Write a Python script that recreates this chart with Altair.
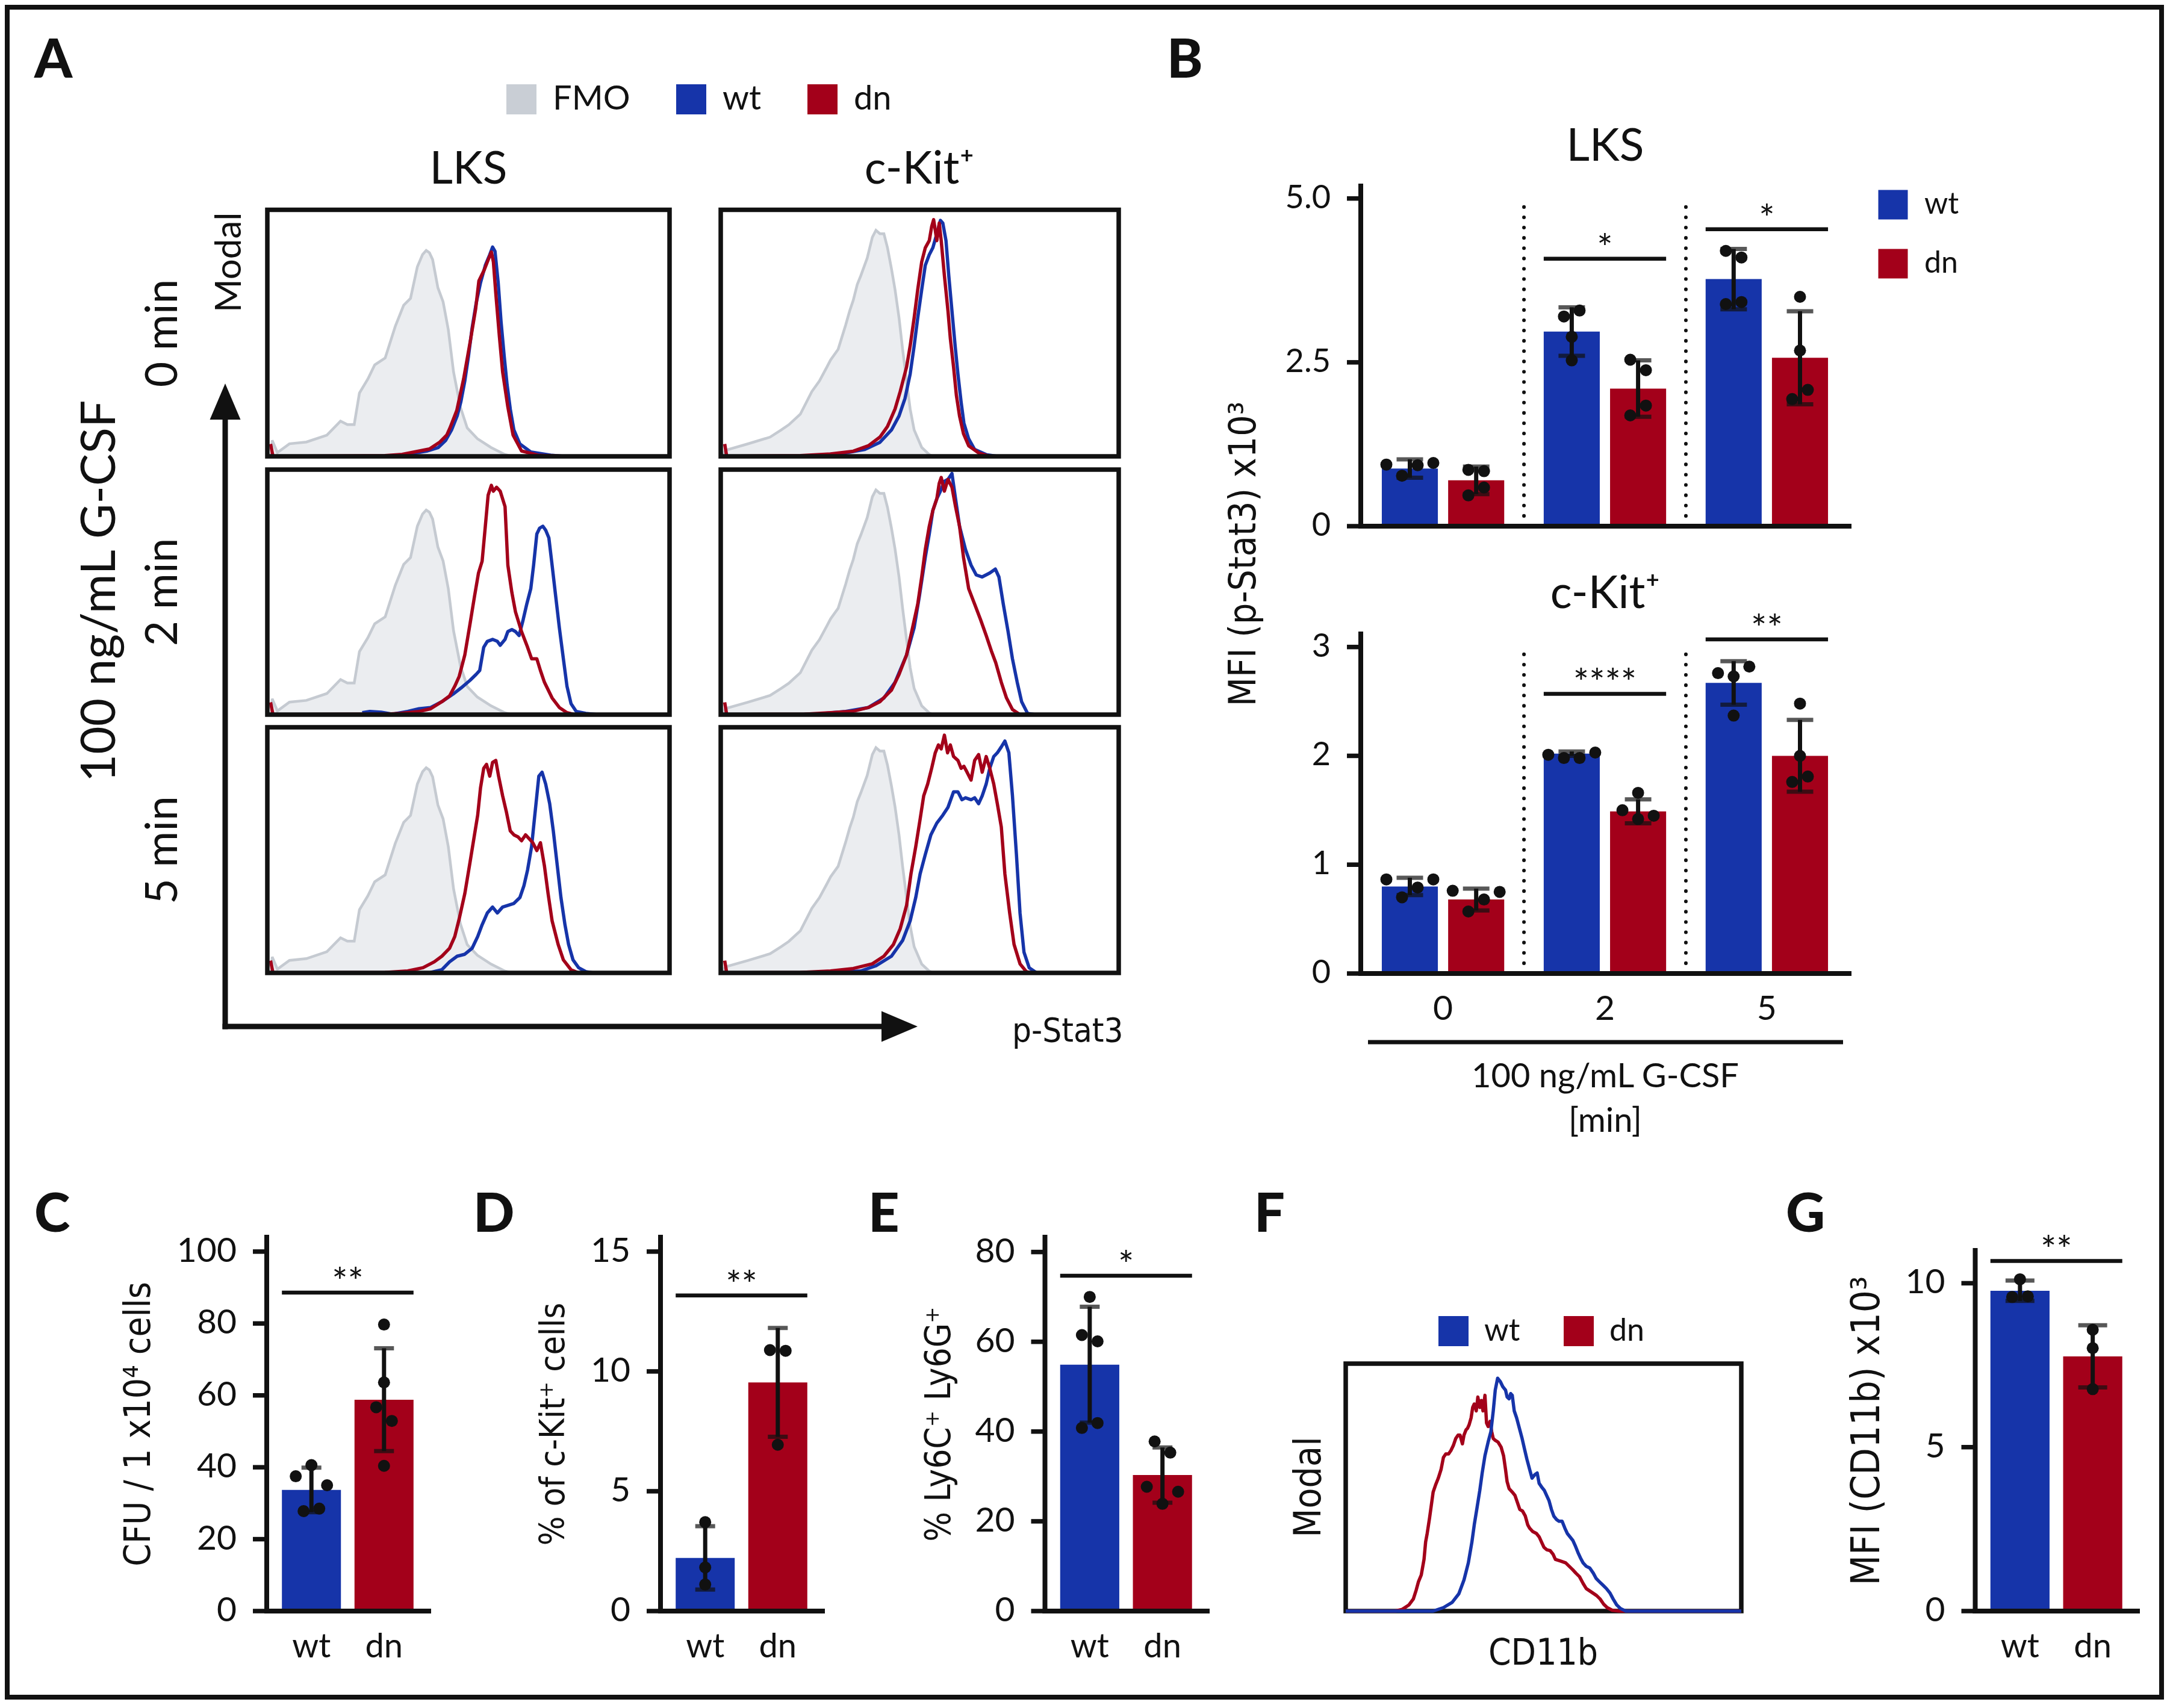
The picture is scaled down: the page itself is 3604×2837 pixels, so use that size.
import altair as alt
import pandas as pd

# ------------------------------------------------------------------ values
GENO = ["wt", "dn"]
TIMES = ["0", "2", "5"]

# Panel B - LKS : MFI (p-Stat3) x10^3
LKS_MEAN_WT = [0.88, 2.97, 3.77]
LKS_MEAN_DN = [0.70, 2.10, 2.57]
LKS_SD_WT = [0.14, 0.37, 0.46]
LKS_SD_DN = [0.21, 0.43, 0.71]
LKS_PTS_WT = [[0.94, 0.77, 0.93, 0.965], [3.20, 3.29, 2.89, 2.53], [4.20, 4.10, 3.39, 3.42]]
LKS_PTS_DN = [[0.86, 0.84, 0.47, 0.59], [2.54, 2.38, 1.69, 1.84], [3.50, 2.68, 1.94, 2.08]]
LKS_SIG_T = ["2", "5"]
LKS_SIG_Y = [4.08, 4.53]
LKS_SIG_S = ["*", "*"]
LKS_TICKS = [0, 2.5, 5.0]
LKS_TICK_LABELS = ["0", "2.5", "5.0"]

# Panel B - c-Kit+
CK_MEAN_WT = [0.80, 2.02, 2.67]
CK_MEAN_DN = [0.68, 1.49, 2.00]
CK_SD_WT = [0.08, 0.02, 0.20]
CK_SD_DN = [0.10, 0.11, 0.33]
CK_PTS_WT = [[0.865, 0.70, 0.79, 0.865], [2.01, 1.98, 1.98, 2.03], [2.76, 2.73, 2.82, 2.37]]
CK_PTS_DN = [[0.76, 0.57, 0.68, 0.75], [1.50, 1.66, 1.42, 1.45], [2.48, 2.00, 1.76, 1.81]]
CK_SIG_T = ["2", "5"]
CK_SIG_Y = [2.57, 3.07]
CK_SIG_S = ["****", "**"]
CK_TICKS = [0, 1, 2, 3]

# Panel C - CFU / 1x10^4 cells
CFU_MEAN = [33.7, 58.8]
CFU_SD = [6.2, 14.3]
CFU_PTS = [[37.5, 40.6, 35.0, 27.8, 28.5], [79.7, 63.6, 56.7, 52.9, 40.4]]
CFU_SIG = (88.6, "**")
CFU_TICKS = [0, 20, 40, 60, 80, 100]

# Panel D - % of c-Kit+ cells
KIT_MEAN = [2.22, 9.54]
KIT_SD = [1.32, 2.27]
KIT_PTS = [[1.11, 3.71, 1.82], [10.89, 10.86, 6.94]]
KIT_SIG = (13.17, "**")
KIT_TICKS = [0, 5, 10, 15]

# Panel E - % Ly6C+ Ly6G+
LY_MEAN = [54.9, 30.3]
LY_SD = [12.9, 6.15]
LY_PTS = [[61.5, 70.0, 60.1, 40.8, 41.9], [37.8, 35.3, 27.7, 23.9, 26.6]]
LY_SIG = (74.7, "*")
LY_TICKS = [0, 20, 40, 60, 80]

# Panel G - MFI (CD11b) x10^3
CD_MEAN = [9.77, 7.77]
CD_SD = [0.31, 0.95]
CD_PTS = [[10.12, 9.58, 9.60], [8.58, 8.02, 6.77]]
CD_SIG = (10.68, "**")
CD_TICKS = [0, 5, 10]

# Panel A histograms (x: channel 0-1000, y: % of mode)
LKS_FMO_X = [10, 12, 25, 55, 97, 148, 182, 199, 216, 229, 250, 267, 293, 318, 339, 356, 373, 386, 395, 403,
             411, 424, 437, 450, 463, 480, 497, 522, 556, 590, 607]
LKS_FMO_Y = [0, 6.5, 1.5, 5.1, 5.8, 8.6, 14.3, 12.9, 12.9, 25.7, 31.4, 37.1, 39.9, 52.7, 61.3, 64.1, 76.9, 81.9,
             83.5, 82.6, 79.8, 68.4, 62.7, 51.3, 34.2, 20.0, 11.5, 7.2, 3.6, 0.8, 0]
CK_FMO_X = [6, 10, 19, 67, 124, 152, 171, 200, 229, 248, 267, 276, 295, 314, 324, 333, 343, 352, 368, 381, 390,
            400, 410, 419, 429, 438, 448, 457, 467, 476, 486, 505, 524, 533]
CK_FMO_Y = [0, 2.1, 2.8, 5.0, 7.8, 10.7, 12.8, 17.1, 26.3, 30.6, 36.3, 39.1, 43.4, 53.3, 59.0, 63.3, 69.7, 73.3,
            80.4, 88.9, 91.7, 90.3, 90.3, 84.6, 76.1, 67.6, 56.2, 43.4, 30.6, 19.2, 10.7, 3.6, 0.7, 0]

LKS0_WT_X = [330, 396, 425, 443, 458, 472, 481, 491, 500, 509, 519, 530, 542, 553, 560, 566, 574, 581, 589, 596,
             604, 613, 628, 655, 708, 736]
LKS0_WT_Y = [0.3, 2.1, 3.6, 6.4, 10.7, 16.4, 22.0, 30.6, 40.5, 51.9, 61.9, 70.4, 77.5, 81.8, 84.9, 83.2, 70.4,
             54.8, 40.5, 29.2, 19.2, 10.7, 5.0, 1.8, 0.4, 0]
LKS0_DN_X = [8, 14, 292, 335, 403, 429, 446, 454, 471, 488, 505, 518, 526, 539, 551, 557, 562, 568, 577, 585,
             598, 611, 632, 675, 743]
LKS0_DN_Y = [5, 0, 0.3, 0.8, 3.0, 5.8, 8.6, 11.5, 18.6, 31.4, 47.1, 59.9, 71.2, 75.5, 80.5, 82.9, 78.9, 66.1,
             48.5, 34.2, 20.0, 8.6, 2.2, 0.4, 0]

LKS2_WT_X = [236, 255, 283, 311, 349, 377, 406, 434, 462, 481, 504, 519, 528, 538, 547, 560, 572, 579, 591, 598,
             608, 617, 626, 636, 645, 655, 662, 670, 677, 685, 692, 700, 708, 717, 726, 736, 745, 755, 768, 792, 821]
LKS2_WT_Y = [0.8, 1.3, 1.0, 0.2, 1.3, 2.4, 2.9, 5.3, 8.4, 10.8, 14.0, 16.4, 18.0, 27.5, 29.9, 30.7, 29.9, 28.3,
             30.7, 33.9, 34.7, 33.9, 32.3, 38.7, 45.1, 51.4, 61.0, 73.7, 76.1, 76.9, 75.3, 72.1, 61.0, 48.2, 35.5,
             22.8, 11.6, 4.5, 1.3, 0.5, 0]
LKS2_DN_X = [8, 14, 236, 292, 330, 377, 406, 434, 453, 466, 477, 491, 504, 515, 525, 534, 542, 549, 557, 562,
             570, 579, 591, 598, 608, 617, 632, 647, 657, 670, 679, 689, 708, 726, 745, 764]
LKS2_DN_Y = [5, 0, 0.2, 0.2, 0.5, 1.3, 2.4, 5.3, 7.6, 11.6, 15.6, 24.4, 37.1, 48.2, 57.8, 62.6, 76.9, 89.6, 93.6,
             91.2, 92.8, 91.2, 84.9, 61.0, 49.8, 41.9, 33.9, 27.5, 22.8, 22.8, 18.0, 13.2, 6.8, 2.9, 0.8, 0]

LKS5_WT_X = [406, 434, 453, 472, 491, 509, 523, 534, 547, 560, 572, 585, 598, 613, 628, 638, 647, 657, 664, 670,
             675, 683, 692, 702, 711, 721, 730, 740, 749, 760, 774, 792, 811]
LKS5_WT_Y = [0.2, 1.3, 4.5, 6.8, 7.6, 10.0, 14.8, 19.6, 24.4, 26.8, 24.4, 26.8, 27.5, 28.3, 30.7, 35.5, 41.9,
             51.4, 62.6, 72.1, 80.1, 81.7, 76.9, 68.9, 57.8, 43.5, 30.7, 19.6, 11.6, 5.3, 2.1, 0.5, 0]
LKS5_DN_X = [8, 14, 292, 349, 387, 415, 434, 453, 466, 477, 491, 504, 515, 523, 530, 538, 545, 553, 560, 568,
             575, 585, 594, 604, 613, 623, 632, 642, 651, 660, 670, 679, 689, 698, 708, 723, 736, 755, 774]
LKS5_DN_Y = [5, 0, 0.2, 0.8, 2.1, 4.5, 6.8, 10.0, 14.8, 22.0, 32.3, 45.1, 56.2, 64.2, 75.3, 83.3, 84.9, 80.1,
             85.7, 86.5, 80.1, 72.1, 65.8, 57.8, 56.2, 55.4, 53.8, 56.2, 54.6, 53.0, 49.8, 53.0, 43.5, 32.3, 21.2,
             11.6, 5.3, 1.3, 0]

CK0_WT_X = [238, 314, 362, 400, 429, 448, 463, 476, 486, 495, 505, 514, 524, 533, 543, 552, 558, 566, 573, 581,
            589, 596, 604, 611, 623, 638, 667, 695]
CK0_WT_Y = [0.3, 1.4, 2.8, 5.7, 10.7, 16.4, 23.5, 33.4, 44.8, 56.2, 67.6, 77.5, 81.8, 84.6, 90.3, 95.7, 94.6,
            87.5, 73.3, 59.0, 44.8, 33.4, 22.0, 13.5, 7.1, 2.8, 0.7, 0]
CK0_DN_X = [10, 15, 200, 276, 333, 371, 400, 419, 438, 451, 467, 476, 486, 495, 505, 514, 524, 530, 535, 543,
            549, 554, 562, 571, 577, 585, 592, 600, 610, 623, 648, 676]
CK0_DN_Y = [5, 0, 0.3, 1.0, 2.1, 4.3, 7.8, 12.1, 19.2, 26.3, 36.3, 44.8, 56.2, 67.6, 78.9, 84.6, 87.5, 93.2,
            96.0, 87.5, 94.6, 87.5, 73.3, 59.0, 47.7, 36.3, 24.9, 16.4, 9.2, 4.3, 1.4, 0]

CK2_WT_X = [238, 314, 371, 410, 438, 467, 486, 499, 514, 524, 533, 543, 552, 562, 571, 581, 590, 600, 615, 629,
            642, 657, 676, 690, 699, 710, 722, 733, 745, 756, 771, 790]
CK2_WT_Y = [0.2, 1.3, 2.9, 6.8, 13.2, 24.4, 35.5, 48.2, 64.2, 73.7, 83.3, 88.1, 91.2, 95.2, 96.0, 98.4, 88.1,
            76.9, 67.4, 61.0, 57.0, 56.2, 57.8, 59.4, 56.2, 45.1, 33.9, 22.8, 13.2, 5.3, 0.5, 0]
CK2_DN_X = [10, 15, 210, 276, 333, 371, 400, 429, 448, 467, 482, 495, 505, 514, 524, 533, 543, 549, 554, 562,
            571, 581, 590, 600, 610, 623, 638, 653, 667, 680, 691, 705, 718, 733, 752]
CK2_DN_Y = [5, 0, 0.2, 0.8, 1.4, 2.9, 5.3, 10.0, 16.4, 24.4, 35.5, 45.1, 56.2, 67.4, 76.9, 83.3, 88.1, 94.4,
            96.8, 91.2, 96.0, 92.8, 84.9, 76.9, 64.2, 51.4, 45.1, 38.7, 32.3, 26.0, 21.2, 13.2, 6.8, 2.1, 0]

CK5_WT_X = [295, 352, 390, 429, 457, 476, 490, 501, 514, 528, 543, 558, 571, 585, 596, 606, 615, 629, 638, 648,
            657, 667, 676, 686, 695, 705, 714, 724, 733, 743, 752, 762, 775, 794]
CK5_WT_Y = [0.2, 0.8, 2.9, 6.8, 13.2, 21.2, 30.7, 40.3, 48.2, 56.2, 61.0, 64.2, 67.4, 73.7, 73.7, 70.5, 71.3,
            70.5, 71.3, 68.9, 72.1, 76.9, 83.3, 88.1, 89.6, 92.0, 94.4, 89.6, 72.1, 48.2, 24.4, 8.4, 2.1, 0]
CK5_DN_X = [10, 15, 200, 276, 333, 381, 410, 434, 451, 467, 478, 490, 501, 510, 520, 530, 539, 547, 554, 562,
            570, 577, 585, 596, 604, 611, 619, 629, 638, 648, 657, 667, 676, 686, 695, 705, 714, 726, 737, 752,
            768, 781]
CK5_DN_Y = [5, 0, 0.2, 0.8, 1.8, 3.7, 6.8, 11.6, 18.0, 27.5, 40.3, 51.4, 62.6, 72.1, 76.9, 83.3, 89.6, 92.8,
            91.2, 96.8, 89.6, 92.8, 88.1, 86.5, 83.3, 84.1, 81.7, 78.5, 86.5, 88.9, 81.7, 88.1, 83.3, 76.9, 68.9,
            59.4, 40.3, 24.4, 11.6, 3.7, 0.5, 0]

# Panel F histogram (CD11b)
F_WT_X = [0, 221, 247, 269, 286, 299, 310, 319, 325, 332, 339, 345, 352, 360, 367, 373, 378, 384, 391, 397, 404,
          408, 413, 417, 421, 426, 432, 439, 446, 452, 458, 465, 471, 478, 484, 489, 495, 502, 508, 514, 520, 526,
          533, 539, 547, 554, 560, 567, 574, 580, 587, 593, 600, 608, 617, 626, 633, 641, 650, 659, 668, 676, 685,
          695, 708, 1000]
F_WT_Y = [0, 0, 1.4, 3.5, 7.0, 12.6, 19.5, 27.9, 34.9, 41.8, 48.8, 55.8, 62.8, 68.3, 72.5, 80.9, 89.3, 94.1, 92.7,
          90.7, 89.3, 86.5, 85.8, 87.9, 87.2, 80.9, 78.1, 73.9, 69.7, 65.5, 61.4, 57.2, 53.7, 55.1, 55.8, 51.6, 50.2,
          48.8, 46.7, 44.6, 41.1, 38.4, 37.0, 36.3, 36.3, 33.5, 31.4, 30.0, 28.6, 26.5, 23.7, 21.6, 19.5, 18.1, 17.4,
          15.3, 13.2, 11.9, 10.5, 9.1, 7.3, 4.9, 2.5, 1.0, 0, 0]
F_DN_X = [0, 125, 143, 160, 171, 178, 184, 191, 198, 202, 206, 212, 218, 221, 227, 234, 241, 247, 253, 260, 266,
          272, 278, 284, 289, 295, 299, 304, 308, 312, 317, 321, 325, 330, 334, 339, 343, 347, 352, 356, 360, 365,
          369, 373, 378, 385, 393, 399, 404, 408, 413, 421, 428, 434, 440, 447, 454, 460, 465, 473, 482, 489, 495,
          501, 508, 517, 524, 530, 543, 556, 565, 574, 582, 591, 600, 608, 621, 634, 643, 652, 661, 674, 691, 1000]
F_DN_Y = [0, 0, 0.7, 2.5, 4.9, 8.4, 11.9, 14.6, 20.9, 27.9, 31.4, 37.7, 44.6, 48.1, 50.9, 53.7, 57.2, 62.1, 63.5,
          63.5, 64.9, 66.9, 69.7, 71.1, 71.1, 67.6, 71.1, 73.2, 73.9, 75.3, 78.1, 82.3, 83.7, 80.9, 86.5, 82.3, 85.1,
          80.9, 87.2, 76.0, 74.6, 76.7, 72.5, 69.7, 69.0, 68.3, 66.2, 62.8, 57.2, 52.3, 49.5, 48.1, 46.7, 43.9, 41.1,
          40.4, 38.4, 34.9, 33.5, 32.1, 31.4, 30.0, 27.9, 25.8, 24.8, 24.4, 23.0, 20.9, 20.2, 19.5, 18.1, 16.7, 15.3,
          13.9, 11.2, 9.1, 7.7, 6.3, 4.9, 2.8, 1.4, 0.3, 0, 0]

# ------------------------------------------------------------------ layout / style
W, H = 3586, 2815


def r(v):  # reference pixel -> chart pixel (page margin is 8px)
    return v - 8.0


BLUE, RED, INK = "#1634A9", "#A3001A", "#111111"
FMO_FILL, FMO_LINE, FMO_KEY = "#E3E6EA", "#C5CAD1", "#C9CED5"
SANS = "Lato, Open Sans, sans-serif"
NARROW = "Liberation Sans Narrow, DejaVu Sans Condensed, sans-serif"
DOT_D = 22.0
DOT_SIZE = 400
SIG_FS = 62


def swarm(vals, ppu, thr=1.2, sp=26.0):
    n = len(vals)
    parent = list(range(n))

    def find(i):
        while parent[i] != i:
            parent[i] = parent[parent[i]]
            i = parent[i]
        return i

    for i in range(n):
        for j in range(i + 1, n):
            if abs(vals[i] - vals[j]) * ppu < thr * DOT_D:
                parent[find(i)] = find(j)
    groups = {}
    for i in range(n):
        groups.setdefault(find(i), []).append(i)
    off = [0.0] * n
    for mem in groups.values():
        k = len(mem)
        for rank, i in enumerate(mem):
            off[i] = (rank - (k - 1) / 2.0) * sp
    return off


def txt(s, x, y, size, font=SANS, weight="normal", angle=0, align="center"):
    return alt.Chart(alt.Data(values=[{"t": s}])).mark_text(
        font=font, fontSize=size, fontWeight=weight, angle=angle, align=align, baseline="alphabetic",
        color=INK).encode(x=alt.value(x), y=alt.value(y), text="t:N")


def axes_layers(xs, ys, xfield, xcats, ydom, yr, axis_x, x_end, ticks, tick_labels, ylab_fs, xlab_fs,
                show_xlabels):
    """Axis lines, ticks and labels, positioned through the panel's own scales."""
    out = []
    out.append(alt.Chart(pd.DataFrame({"a": [ydom[0]], "b": [ydom[1]]})).mark_rule(
        color=INK, strokeWidth=8, strokeCap="square").encode(
        x=alt.value(axis_x), y=alt.Y("a:Q", scale=ys, axis=None), y2="b:Q"))
    out.append(alt.Chart(pd.DataFrame({"a": [ydom[0]]})).mark_rule(
        color=INK, strokeWidth=8, strokeCap="square").encode(
        x=alt.value(axis_x), x2=alt.value(x_end), y=alt.Y("a:Q", scale=ys, axis=None)))
    tdf = pd.DataFrame({"v": ticks, "lab": tick_labels})
    out.append(alt.Chart(tdf).mark_rule(color=INK, strokeWidth=7.5).encode(
        x=alt.value(axis_x - 23), x2=alt.value(axis_x), y=alt.Y("v:Q", scale=ys, axis=None)))
    out.append(alt.Chart(tdf).mark_text(font=SANS, fontSize=ylab_fs, color=INK, align="right",
                                        baseline="middle").encode(
        x=alt.value(axis_x - 50), y=alt.Y("v:Q", scale=ys, axis=None), text="lab:N"))
    if show_xlabels:
        out.append(alt.Chart(pd.DataFrame({xfield: xcats})).mark_text(
            font=SANS, fontSize=xlab_fs, color=INK, align="center", baseline="alphabetic").encode(
            x=alt.X(f"{xfield}:N", scale=xs, axis=None), y=alt.value(yr[0] + 77), text=f"{xfield}:N"))
    return out


def curve(xs, ys):
    return pd.DataFrame({"x": xs, "y": ys, "i": list(range(len(xs)))})


def hist_panel(xr, yr, fmo, wt, dn, frame_top=True, wt_last=False):
    xsc = alt.Scale(domain=[0, 1000], range=list(xr), nice=False, zero=False)
    ysc = alt.Scale(domain=[0, 100], range=list(yr), nice=False, zero=False)
    X = alt.X("x:Q", scale=xsc, axis=None)
    Y = alt.Y("y:Q", scale=ysc, axis=None)
    frame = alt.Chart(alt.Data(values=[{"x": 0, "x2": 1000, "y": 0, "y2": 100}])).mark_rect(
        filled=False, color=INK, strokeWidth=7.5).encode(x=X, x2="x2:Q", y=Y, y2="y2:Q")
    layers = []
    if not frame_top:
        layers.append(frame)
    if fmo is not None:
        layers.append(alt.Chart(curve(*fmo)).mark_area(
            color=FMO_FILL, line={"color": FMO_LINE, "strokeWidth": 4.5}).encode(x=X, y=Y))
    lw = alt.Chart(curve(*wt)).mark_line(color=BLUE, strokeWidth=5.5, strokeJoin="round").encode(
        x=X, y=Y, order="i:Q")
    ld = alt.Chart(curve(*dn)).mark_line(color=RED, strokeWidth=5.5, strokeJoin="round").encode(
        x=X, y=Y, order="i:Q")
    layers += [ld, lw] if wt_last else [lw, ld]
    if frame_top:
        layers.append(frame)
    return alt.layer(*layers)


def legend_layer(labels, colors, lx, ly, direction, size, fs, loff, colpad=0, rowpad=0):
    return alt.Chart(pd.DataFrame({"k": labels})).mark_square(size=0, opacity=1).encode(
        x=alt.value(0), y=alt.value(0),
        color=alt.Color("k:N", scale=alt.Scale(domain=labels, range=colors),
                        legend=alt.Legend(orient="none", legendX=lx, legendY=ly, direction=direction,
                                          columns=len(labels) if direction == "horizontal" else 1,
                                          title=None, symbolType="square", symbolSize=size,
                                          symbolStrokeWidth=0, symbolOpacity=1, labelFont=SANS,
                                          labelFontSize=fs, labelColor=INK, labelOffset=loff,
                                          columnPadding=colpad, rowPadding=rowpad, padding=0)))


def small_bars(xr, ydom, yr, means, sds, pts, sig, ticks, title, title_x, title_fs, cap):
    pi, po = 0.187, 0.209
    step = (xr[1] - xr[0]) / (2 - pi + 2 * po)
    bw = step * (1 - pi)
    xs = alt.Scale(domain=GENO, range=list(xr), paddingInner=pi, paddingOuter=po)
    ys = alt.Scale(domain=list(ydom), range=list(yr), nice=False, zero=False)
    ppu = (yr[0] - yr[1]) / (ydom[1] - ydom[0])
    bars = pd.DataFrame({"g": GENO, "m": means,
                         "lo": [m - s for m, s in zip(means, sds)], "hi": [m + s for m, s in zip(means, sds)]})
    caps = pd.DataFrame({"g": GENO * 2, "v": list(bars["lo"]) + list(bars["hi"])})
    rows = []
    for gi, g in enumerate(GENO):
        for v, o in zip(pts[gi], swarm(pts[gi], ppu)):
            rows.append({"g": g, "v": v, "o": bw / 2 + o})
    sig_df = pd.DataFrame({"a": ["wt"], "b": ["dn"], "y": [sig[0]], "s": [sig[1]]})
    Xn = alt.X("g:N", scale=xs, axis=None)
    bar = alt.Chart(bars).mark_bar().encode(
        x=Xn, y=alt.Y("m:Q", scale=ys, axis=None),
        color=alt.Color("g:N", scale=alt.Scale(domain=GENO, range=[BLUE, RED]), legend=None))
    err = alt.Chart(bars).mark_rule(color=INK, strokeWidth=7).encode(
        x=Xn, y=alt.Y("lo:Q", scale=ys, axis=None), y2="hi:Q")
    capm = alt.Chart(caps).mark_tick(orient="horizontal", size=cap, thickness=7, color=INK).encode(
        x=Xn, y=alt.Y("v:Q", scale=ys, axis=None))
    sigr = alt.Chart(sig_df).mark_rule(color=INK, strokeWidth=6.5).encode(
        x=alt.X("a:N", scale=xs, axis=None, bandPosition=0), x2=alt.X2("b:N", bandPosition=1),
        y=alt.Y("y:Q", scale=ys, axis=None))
    sigt = alt.Chart(sig_df).mark_text(font=SANS, fontSize=SIG_FS, color=INK, baseline="alphabetic",
                                       dx=step / 2, dy=4).encode(
        x=alt.X("a:N", scale=xs, axis=None), y=alt.Y("y:Q", scale=ys, axis=None), text="s:N")
    ax = axes_layers(xs, ys, "g", GENO, ydom, yr, xr[0], xr[1], ticks, [str(t) for t in ticks], 57, 56, True)
    group = alt.layer(bar, err, capm, sigr, sigt, *ax)
    dots = alt.Chart(pd.DataFrame(rows)).mark_circle(size=DOT_SIZE, color=INK, opacity=1).encode(
        x=alt.X("g:N", scale=xs, axis=None),
        xOffset=alt.XOffset("o:Q", scale=alt.Scale(domain=[0, bw], range=[0, bw])),
        y=alt.Y("v:Q", scale=ys, axis=None))
    ttl = txt(title, xr[0] + title_x, (yr[0] + yr[1]) / 2, title_fs, font=NARROW, angle=270)
    return [group, dots, ttl]


def b_chart(yr, ydom, ticks, tick_labels, mwt, mdn, swt, sdn, pwt, pdn, sig_t, sig_y, sig_s, sep_hi,
            show_labels, legend):
    pi, po, pio = 0.244, 0.13, 0.155
    xr = [r(2260), r(3071)]
    step = (xr[1] - xr[0]) / (3 - pi + 2 * po)
    bw = step * (1 - pi)
    step_o = bw / (2 - pio)
    bwo = step_o * (1 - pio)
    xs = alt.Scale(domain=TIMES, range=xr, paddingInner=pi, paddingOuter=po)
    xos = alt.Scale(domain=GENO, paddingInner=pio, paddingOuter=0)
    ys = alt.Scale(domain=list(ydom), range=list(yr), nice=False, zero=False)
    ppu = (yr[0] - yr[1]) / (ydom[1] - ydom[0])
    bars, caps, dots = [], [], []
    for ti, t in enumerate(TIMES):
        for gi, (g, m, s, p) in enumerate([("wt", mwt[ti], swt[ti], pwt[ti]), ("dn", mdn[ti], sdn[ti], pdn[ti])]):
            bars.append({"t": t, "g": g, "m": m, "lo": m - s, "hi": m + s})
            caps += [{"t": t, "g": g, "v": m - s}, {"t": t, "g": g, "v": m + s}]
            for v, o in zip(p, swarm(p, ppu)):
                dots.append({"t": t, "v": v, "o": step_o * gi + bwo / 2 + o})
    bars = pd.DataFrame(bars)
    Xn = alt.X("t:N", scale=xs, axis=None)
    XO = alt.XOffset("g:N", scale=xos)
    bar = alt.Chart(bars).mark_bar().encode(
        x=Xn, xOffset=XO, y=alt.Y("m:Q", scale=ys, axis=None),
        color=alt.Color("g:N", scale=alt.Scale(domain=GENO, range=[BLUE, RED]), legend=legend))
    sep = alt.Chart(pd.DataFrame({"t": ["2", "5"], "lo": [0, 0], "hi": [sep_hi, sep_hi]})).mark_rule(
        color=INK, strokeWidth=6, strokeDash=[0.1, 17], strokeCap="round", xOffset=-(pi * step) / 2).encode(
        x=alt.X("t:N", scale=xs, axis=None, bandPosition=0), y=alt.Y("lo:Q", scale=ys, axis=None), y2="hi:Q")
    err = alt.Chart(bars).mark_rule(color=INK, strokeWidth=7).encode(
        x=Xn, xOffset=XO, y=alt.Y("lo:Q", scale=ys, axis=None), y2="hi:Q")
    capm = alt.Chart(pd.DataFrame(caps)).mark_tick(orient="horizontal", size=44, thickness=7, color=INK).encode(
        x=Xn, xOffset=XO, y=alt.Y("v:Q", scale=ys, axis=None))
    sig_df = pd.DataFrame({"t": sig_t, "y": sig_y, "s": sig_s})
    sigr = alt.Chart(sig_df).mark_rule(color=INK, strokeWidth=6.5).encode(
        x=alt.X("t:N", scale=xs, axis=None, bandPosition=0), x2=alt.X2("t:N", bandPosition=1),
        y=alt.Y("y:Q", scale=ys, axis=None))
    sigt = alt.Chart(sig_df).mark_text(font=SANS, fontSize=SIG_FS, color=INK, baseline="alphabetic",
                                       dy=4).encode(
        x=Xn, y=alt.Y("y:Q", scale=ys, axis=None), text="s:N")
    ax = axes_layers(xs, ys, "t", TIMES, ydom, yr, xr[0], xr[1], ticks, tick_labels, 54, 57, show_labels)
    group = alt.layer(bar, sep, err, capm, sigr, sigt, *ax)
    dotl = alt.Chart(pd.DataFrame(dots)).mark_circle(size=DOT_SIZE, color=INK, opacity=1).encode(
        x=Xn, xOffset=alt.XOffset("o:Q", scale=alt.Scale(domain=[0, bw], range=[0, bw])),
        y=alt.Y("v:Q", scale=ys, axis=None))
    return [group, dotl]


ONE = alt.Data(values=[{}])
L = []

# outer frame
L.append(alt.Chart(ONE).mark_rect(filled=False, color=INK, strokeWidth=8).encode(
    x=alt.value(4), x2=alt.value(W - 4), y=alt.value(4), y2=alt.value(H - 4)))

# panel letters
for s, x, y in [("A", 57, 129), ("B", 1938, 129), ("C", 57, 2046), ("D", 786, 2046), ("E", 1442, 2046),
                ("F", 2083, 2046), ("G", 2966, 2046)]:
    L.append(txt(s, r(x), r(y), 90, weight=900, align="left"))

# ---------------- panel A
COLX = [(r(444), r(1112)), (r(1197), r(1858))]
ROWY = [(r(758), r(348.5)), (r(1187), r(780)), (r(1616), r(1208))]
A_DATA = [
    [((LKS0_WT_X, LKS0_WT_Y), (LKS0_DN_X, LKS0_DN_Y)), ((CK0_WT_X, CK0_WT_Y), (CK0_DN_X, CK0_DN_Y))],
    [((LKS2_WT_X, LKS2_WT_Y), (LKS2_DN_X, LKS2_DN_Y)), ((CK2_WT_X, CK2_WT_Y), (CK2_DN_X, CK2_DN_Y))],
    [((LKS5_WT_X, LKS5_WT_Y), (LKS5_DN_X, LKS5_DN_Y)), ((CK5_WT_X, CK5_WT_Y), (CK5_DN_X, CK5_DN_Y))],
]
FMOS = [(LKS_FMO_X, LKS_FMO_Y), (CK_FMO_X, CK_FMO_Y)]
for ri in range(3):
    for ci in range(2):
        wt, dn = A_DATA[ri][ci]
        L.append(hist_panel(COLX[ci], ROWY[ri], FMOS[ci], wt, dn, frame_top=True, wt_last=False))

L.append(legend_layer(["FMO", "wt", "dn"], [FMO_KEY, BLUE, RED], r(838), r(137), "horizontal", 2500, 56, 24,
                      colpad=73))
L.append(txt("LKS", r(778), r(305), 75))
L.append(txt("c-Kit\u207a", r(1527), r(305), 75))
for s, yc in [("0 min", 553.5), ("2 min", 983.5), ("5 min", 1412)]:
    L.append(txt(s, r(293.5), r(yc), 73, angle=270))
L.append(txt("Modal", r(400), r(352.6), 60, angle=270, align="right"))
L.append(txt("100 ng/mL G-CSF", r(191), r(982), 80, angle=270))
# axes arrows
L.append(alt.Chart(ONE).mark_rule(color=INK, strokeWidth=9, strokeCap="square").encode(
    x=alt.value(r(374)), y=alt.value(r(1705)), y2=alt.value(r(690))))
L.append(alt.Chart(ONE).mark_rule(color=INK, strokeWidth=9, strokeCap="square").encode(
    x=alt.value(r(374)), x2=alt.value(r(1470)), y=alt.value(r(1705))))
L.append(alt.Chart(ONE).mark_point(shape="M0,-1L0.85,1L-0.85,1Z", size=3600, filled=True, color=INK,
                                   opacity=1, strokeWidth=0).encode(x=alt.value(r(374)), y=alt.value(r(667))))
L.append(alt.Chart(ONE).mark_point(shape="M1,0L-1,-0.85L-1,0.85Z", size=3600, filled=True, color=INK,
                                   opacity=1, strokeWidth=0).encode(x=alt.value(r(1494)), y=alt.value(r(1705))))
L.append(txt("p-Stat3", r(1681), r(1730), 56, font=NARROW, align="left"))

# ---------------- panel B
b_leg = alt.Legend(orient="none", legendX=r(3119), legendY=r(315), direction="vertical", title=None,
                   symbolType="square", symbolSize=2400, symbolStrokeWidth=0, symbolOpacity=1, labelFont=SANS,
                   labelFontSize=50, labelColor=INK, labelOffset=27, rowPadding=48, padding=0)
L += b_chart((r(874), r(309)), (0, 5.19), LKS_TICKS, LKS_TICK_LABELS,
             LKS_MEAN_WT, LKS_MEAN_DN, LKS_SD_WT, LKS_SD_DN, LKS_PTS_WT, LKS_PTS_DN,
             LKS_SIG_T, LKS_SIG_Y, LKS_SIG_S, 5.0, False, b_leg)
L += b_chart((r(1617), r(1053)), (0, 3.12), CK_TICKS, [str(t) for t in CK_TICKS],
             CK_MEAN_WT, CK_MEAN_DN, CK_SD_WT, CK_SD_DN, CK_PTS_WT, CK_PTS_DN,
             CK_SIG_T, CK_SIG_Y, CK_SIG_S, 3.0, True, None)
L.append(txt("LKS", r(2666), r(267), 75))
L.append(txt("c-Kit\u207a", r(2666), r(1010), 75))
L.append(txt("MFI (p-Stat3) x10\u00b3", r(2085), r(920), 62, font=NARROW, angle=270))
L.append(alt.Chart(ONE).mark_rule(color=INK, strokeWidth=7).encode(
    x=alt.value(r(2272)), x2=alt.value(r(3061)), y=alt.value(r(1731))))
L.append(txt("100 ng/mL G-CSF", r(2666), r(1806), 56))
L.append(txt("[min]", r(2666), r(1880), 56))

# ---------------- panels C, D, E, G
YR_BOT = (r(2676), r(2055))
L += small_bars((r(443), r(712)), (0, 104), YR_BOT, CFU_MEAN, CFU_SD, CFU_PTS, CFU_SIG,
                CFU_TICKS, "CFU / 1 x10\u2074 cells", 249 - 443, 60, 33)
L += small_bars((r(1097), r(1366)), (0, 15.6), YR_BOT, KIT_MEAN, KIT_SD, KIT_PTS, KIT_SIG,
                KIT_TICKS, "% of c-Kit\u207a cells", 937 - 1097, 57, 33)
L += small_bars((r(1735.5), r(2005)), (0, 83.3), YR_BOT, LY_MEAN, LY_SD, LY_PTS, LY_SIG,
                LY_TICKS, "% Ly6C\u207a Ly6G\u207a", 1578 - 1735.5, 58, 33)
L += small_bars((r(3280.5), r(3550)), (0, 11.0), (r(2676), r(2077)), CD_MEAN, CD_SD, CD_PTS, CD_SIG,
                CD_TICKS, "MFI (CD11b) x10\u00b3", 3120.5 - 3280.5, 65, 48)

# ---------------- panel F
L.append(hist_panel((r(2235), r(2892)), (r(2676), r(2265)), None, (F_WT_X, F_WT_Y), (F_DN_X, F_DN_Y),
                    frame_top=False, wt_last=True))
L.append(legend_layer(["wt", "dn"], [BLUE, RED], r(2388), r(2185), "horizontal", 2500, 52, 25, colpad=71))
L.append(txt("Modal", r(2193), r(2470), 62, font=NARROW, angle=270))
L.append(txt("CD11b", r(2563), r(2765), 60, font=NARROW))

chart = alt.layer(*L).resolve_scale(
    x="independent", y="independent", xOffset="independent", color="independent"
).resolve_legend(color="independent").properties(
    width=W, height=H, autosize=alt.AutoSizeParams(type="none"), padding=0, background="white"
).configure_view(stroke="transparent")

chart.save("out.html", embed_options={"renderer": "svg", "actions": False})
